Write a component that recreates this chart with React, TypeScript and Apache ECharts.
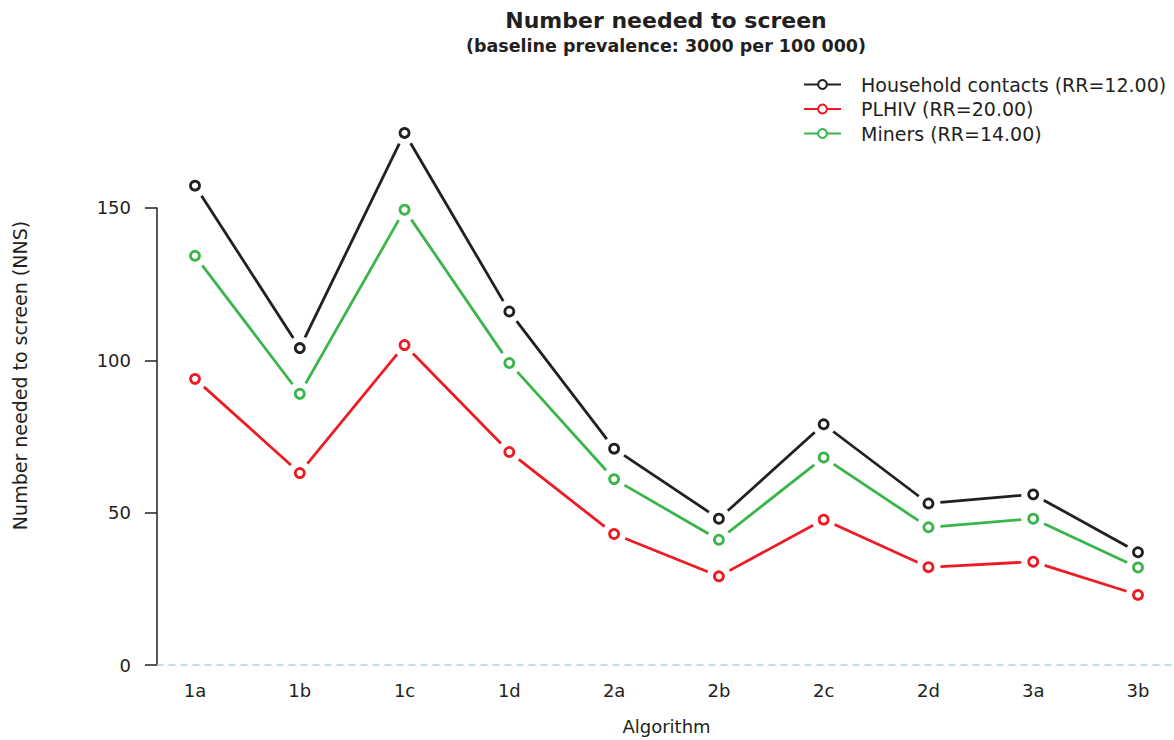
import React, { useEffect, useRef } from 'react';
import * as echarts from 'echarts';

// Screening algorithms on the horizontal axis
const algorithms = ['1a', '1b', '1c', '1d', '2a', '2b', '2c', '2d', '3a', '3b'];

// Number needed to screen per risk group
const householdContacts = [157.3, 104.0, 174.6, 116.0, 71.0, 48.0, 79.0, 53.0, 56.0, 37.0];
const plhiv = [93.9, 63.0, 105.0, 69.9, 43.0, 29.1, 47.7, 32.1, 33.9, 23.0];
const miners = [134.3, 89.0, 149.4, 99.1, 61.0, 41.1, 68.1, 45.2, 48.0, 32.0];

const groupNames = ['Household contacts (RR=12.00)', 'PLHIV (RR=20.00)', 'Miners (RR=14.00)'];
const groupColors = ['#231f20', '#ed1c24', '#39b54a'];
const groupValues = [householdContacts, plhiv, miners];

// Visible y-axis ticks
const yAxisMin = 0;
const yAxisTickMax = 150;
const yAxisInterval = 50;
const plotMax = 190;

const FONT = '"DejaVu Sans", sans-serif';
const INK = '#231f20';
const LINE_WIDTH = 2.8;
const MARKER_GAP = 12; // segments stop short of each point marker

export default function App() {
  const ref = useRef<HTMLDivElement>(null);

  useEffect(() => {
    if (!ref.current) return;
    const chart = echarts.init(ref.current, undefined, { renderer: 'svg' });

    const pxPerUnit = 579 / plotMax;
    const plotBottom = 75;
    const frameTop = 740 - plotBottom - yAxisTickMax * pxPerUnit;

    const series: any[] = [];
    groupValues.forEach((vals, i) => {
      const color = groupColors[i];
      // legend entry (line with open circle)
      series.push({
        type: 'line',
        name: groupNames[i],
        xAxisIndex: 0,
        yAxisIndex: 0,
        data: [],
        symbol: 'emptyCircle',
        color,
        lineStyle: { width: LINE_WIDTH, color },
        itemStyle: { color },
        silent: true,
      });
      // connecting segments, shortened at both ends
      series.push({
        type: 'custom',
        xAxisIndex: 0,
        yAxisIndex: 0,
        data: vals.map((v, k) => [k, v]),
        encode: { x: 0, y: 1 },
        silent: true,
        z: 2,
        renderItem: (params: any, api: any) => {
          const k = params.dataIndex;
          if (k >= vals.length - 1) return null;
          const p0 = api.coord([k, vals[k]]);
          const p1 = api.coord([k + 1, vals[k + 1]]);
          const dx = p1[0] - p0[0];
          const dy = p1[1] - p0[1];
          const len = Math.hypot(dx, dy);
          const ux = dx / len;
          const uy = dy / len;
          return {
            type: 'line',
            shape: {
              x1: p0[0] + ux * MARKER_GAP,
              y1: p0[1] + uy * MARKER_GAP,
              x2: p1[0] - ux * MARKER_GAP,
              y2: p1[1] - uy * MARKER_GAP,
            },
            style: { stroke: color, lineWidth: LINE_WIDTH, lineCap: 'butt' },
          };
        },
      });
      // open circle markers
      series.push({
        type: 'scatter',
        xAxisIndex: 0,
        yAxisIndex: 0,
        data: vals,
        symbol: 'circle',
        symbolSize: 9,
        itemStyle: { color: '#ffffff', borderColor: color, borderWidth: 2.8, opacity: 1 },
        z: 4,
        silent: true,
      });
    });

    chart.setOption({
      animation: false,
      backgroundColor: '#ffffff',
      textStyle: { fontFamily: FONT },
      graphic: [
        {
          type: 'text',
          x: 666,
          y: 20,
          style: {
            text: 'Number needed to screen',
            fontFamily: FONT,
            fontSize: 22,
            fontWeight: 'bold',
            fill: INK,
            textAlign: 'center',
            textVerticalAlign: 'middle',
          },
        },
        {
          type: 'text',
          x: 666,
          y: 46,
          style: {
            text: '(baseline prevalence: 3000 per 100 000)',
            fontFamily: FONT,
            fontSize: 17.5,
            fontWeight: 'bold',
            fill: INK,
            textAlign: 'center',
            textVerticalAlign: 'middle',
          },
        },
      ],
      legend: {
        data: groupNames,
        orient: 'vertical',
        left: 798,
        top: 70,
        itemWidth: 37,
        itemHeight: 11,
        itemGap: 5.5,
        selectedMode: false,
        textStyle: { fontFamily: FONT, fontSize: 19, color: INK, padding: [0, 0, 0, 15] },
      },
      grid: [
        { left: 195, right: 36, top: 740 - plotBottom - plotMax * pxPerUnit, bottom: plotBottom },
        { left: 157, right: 0, top: frameTop, bottom: plotBottom },
      ],
      xAxis: [
        {
          type: 'category',
          gridIndex: 0,
          data: algorithms,
          boundaryGap: false,
          axisLine: { show: false },
          axisTick: { show: false },
          axisLabel: { fontFamily: FONT, fontSize: 18, color: INK, margin: 16 },
          splitLine: { show: false },
          name: 'Algorithm',
          nameLocation: 'middle',
          nameGap: 52,
          nameTextStyle: { fontFamily: FONT, fontSize: 18, color: INK },
        },
        {
          type: 'value',
          gridIndex: 1,
          min: 0,
          max: 1,
          axisLine: { show: true, lineStyle: { color: '#a9d6e5', width: 1.5, type: [6, 6] } },
          axisTick: { show: false },
          axisLabel: { show: false },
          splitLine: { show: false },
        },
      ],
      yAxis: [
        {
          type: 'value',
          gridIndex: 0,
          min: yAxisMin,
          max: plotMax,
          axisLine: { show: false },
          axisTick: { show: false },
          axisLabel: { show: false },
          splitLine: { show: false },
          name: 'Number needed to screen (NNS)',
          nameLocation: 'middle',
          nameGap: 166,
          nameTextStyle: { fontFamily: FONT, fontSize: 19, color: INK },
        },
        {
          type: 'value',
          gridIndex: 1,
          min: yAxisMin,
          max: yAxisTickMax,
          interval: yAxisInterval,
          axisLine: { show: true, lineStyle: { color: INK, width: 1.5 } },
          axisTick: { show: true, length: 12, lineStyle: { color: INK, width: 1.5 } },
          axisLabel: { fontFamily: FONT, fontSize: 18, color: INK, margin: 26 },
          splitLine: { show: false },
        },
      ],
      series,
    });

    return () => chart.dispose();
  }, []);

  return (
    <div
      ref={ref}
      style={{ position: 'fixed', left: 0, top: 0, width: 1174, height: 740, background: '#fff' }}
    />
  );
}
